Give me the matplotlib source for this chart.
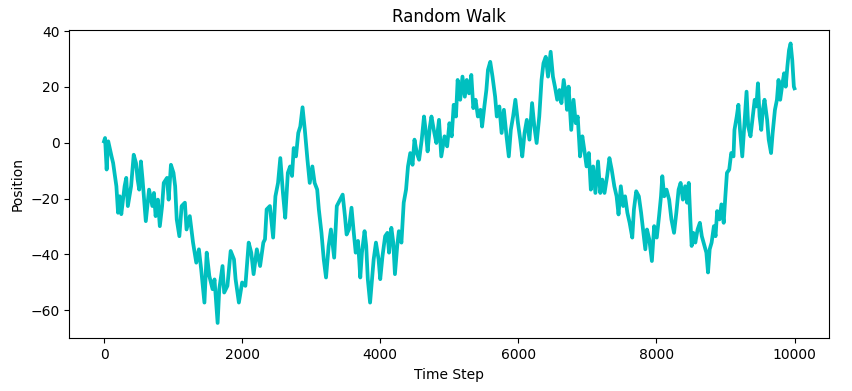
import matplotlib
matplotlib.use("Agg")
import matplotlib.pyplot as plt

steps = [0, 15, 38, 61, 109, 132, 179, 203, 227, 250, 298, 322, 345, 392, 430, 463, 487, 510, 534, 558,
         605, 652, 700, 723, 747, 780, 808, 841, 865, 912, 936, 969, 1006, 1030, 1053, 1091, 1124, 1171,
         1195, 1242, 1265, 1289, 1336, 1374, 1407, 1454, 1487, 1525, 1572, 1600, 1645, 1669, 1716, 1740,
         1787, 1834, 1882, 1905, 1953, 2000, 2047, 2095, 2132, 2166, 2213, 2260, 2307, 2331, 2355, 2402,
         2449, 2482, 2520, 2553, 2591, 2624, 2662, 2695, 2723, 2747, 2780, 2813, 2842, 2875, 2908, 2946,
         2979, 3017, 3050, 3087, 3111, 3149, 3182, 3215, 3253, 3286, 3333, 3371, 3418, 3456, 3489, 3513,
         3546, 3584, 3617, 3645, 3678, 3711, 3735, 3773, 3797, 3820, 3853, 3882, 3905, 3938, 3976, 4000,
         4033, 4071, 4104, 4128, 4161, 4189, 4213, 4246, 4270, 4307, 4326, 4340, 4374, 4402, 4435, 4468,
         4496, 4530, 4563, 4601, 4634, 4662, 4686, 4719, 4742, 4780, 4813, 4851, 4884, 4931, 4969, 5002,
         5035, 5064, 5097, 5121, 5158, 5191, 5225, 5253, 5286, 5319, 5348, 5381, 5414, 5452, 5475, 5508,
         5537, 5560, 5593, 5626, 5664, 5688, 5725, 5758, 5791, 5829, 5862, 5891, 5924, 5957, 5995, 6028,
         6057, 6090, 6123, 6161, 6199, 6232, 6265, 6303, 6336, 6364, 6397, 6430, 6468, 6501, 6530, 6563,
         6596, 6624, 6657, 6690, 6705, 6728, 6766, 6799, 6832, 6860, 6894, 6927, 6955, 6988, 7021, 7050,
         7083, 7116, 7154, 7187, 7215, 7248, 7286, 7319, 7352, 7390, 7423, 7451, 7484, 7518, 7546, 7579,
         7612, 7650, 7674, 7707, 7745, 7778, 7806, 7839, 7863, 7896, 7934, 7967, 8005, 8038, 8066, 8085,
         8113, 8146, 8184, 8217, 8255, 8288, 8321, 8350, 8383, 8416, 8444, 8468, 8490, 8510, 8534, 8563,
         8596, 8629, 8657, 8690, 8723, 8747, 8771, 8799, 8832, 8856, 8879, 8913, 8941, 8974, 8998, 9021,
         9054, 9083, 9116, 9130, 9163, 9187, 9210, 9243, 9272, 9305, 9329, 9362, 9390, 9423, 9447, 9470,
         9494, 9518, 9541, 9565, 9603, 9626, 9660, 9683, 9716, 9745, 9768, 9792, 9825, 9849, 9872, 9896,
         9920, 9943, 9967, 9990, 9999]

position = [0.5, 1.7, -9.6, 0.5, -4.9, -7.3, -15.6, -25.1, -19.2, -25.6, -15.6, -12.6, -22.7, -15.6, -4.3,
            -7.3, -13.2, -16.8, -6.7, -13.2, -28.1, -16.8, -22.7, -18.0, -26.3, -20.4, -29.9, -22.7, -14.4,
            -12.6, -20.4, -7.9, -10.8, -15.6, -27.5, -33.5, -22.7, -21.5, -31.1, -26.3, -31.1, -35.8, -43.0,
            -38.2, -45.4, -57.3, -39.4, -47.8, -52.5, -49.0, -64.6, -52.5, -44.2, -53.7, -51.3, -38.8, -41.8,
            -48.9, -57.3, -50.1, -51.3, -35.8, -39.4, -47.1, -38.2, -44.2, -35.8, -34.6, -23.9, -22.7, -34.0,
            -19.2, -14.4, -5.5, -18.0, -26.9, -10.8, -8.5, -11.9, -1.9, -4.9, 3.5, 5.8, 12.7, 4.6, -6.1,
            -14.4, -8.5, -14.4, -16.8, -23.9, -32.3, -41.8, -48.3, -37.0, -31.1, -41.2, -22.7, -20.4, -18.6,
            -26.3, -32.9, -31.1, -23.3, -32.3, -39.4, -35.2, -48.3, -39.4, -31.7, -37.0, -48.9, -57.3, -48.9,
            -41.8, -35.8, -41.8, -48.9, -40.6, -33.5, -32.3, -39.4, -30.5, -35.8, -47.1, -37.0, -31.7, -35.8,
            -27.5, -21.5, -16.8, -8.5, -3.7, -7.9, 1.1, -3.7, -6.1, 1.1, 9.4, 3.5, -3.1, 5.8, 9.4, 4.0, -0.1,
            8.2, -4.9, 2.3, -1.3, 7.0, 2.3, 13.6, 9.4, 22.5, 15.4, 23.7, 16.5, 22.5, 17.7, 24.3, 12.4, 15.4,
            9.4, 11.8, 5.8, 13.0, 18.9, 26.1, 29.0, 23.7, 16.5, 9.4, 13.0, 3.5, 11.8, 2.3, -4.9, 4.6, 9.4,
            15.4, 7.0, 1.1, -4.9, 3.5, 8.2, 1.1, 14.2, 5.8, -0.1, 9.4, 22.5, 28.5, 30.8, 23.7, 32.6, 23.7,
            20.1, 15.4, 18.9, 14.2, 22.5, 16.5, 11.8, 20.1, 4.6, 15.4, 7.0, 9.4, -4.9, 2.3, -2.5, -8.5, -3.7,
            -16.8, -8.5, -18.0, -6.7, -18.0, -13.2, -18.0, -12.0, -5.5, -9.6, -15.6, -19.2, -25.7, -15.6,
            -22.7, -19.2, -25.1, -28.7, -34.0, -23.9, -17.4, -19.2, -25.1, -31.1, -38.2, -31.1, -34.6, -42.4,
            -29.9, -34.0, -26.3, -19.2, -12.0, -19.2, -16.8, -20.4, -27.5, -32.3, -25.1, -16.8, -14.4, -20.4,
            -15.6, -21.5, -14.4, -27.0, -37.0, -32.3, -35.8, -31.1, -28.7, -33.5, -36.4, -39.4, -46.5, -38.2,
            -35.8, -29.9, -33.5, -24.5, -27.5, -22.1, -28.7, -19.2, -10.8, -9.6, -3.7, -4.9, 4.6, 9.4, 13.6,
            4.6, -4.9, 5.8, 18.3, 5.8, 2.3, 8.2, 15.4, 13.0, 21.3, 9.4, 4.6, 11.8, 15.4, 8.2, 1.1, -3.7, 3.5,
            11.8, 15.4, 22.5, 15.4, 21.3, 24.9, 20.1, 27.3, 33.2, 35.6, 29.6, 20.1, 19.5]

fig = plt.figure(figsize=(8.53, 3.91), dpi=100)
ax = fig.add_axes([69.5 / 853, 1 - 338.3 / 391, (829 - 69.5) / 853, (338.3 - 30.3) / 391])
ax.plot(steps, position, color='c', linewidth=2.7)
ax.set_xlim(-500, 10499)
ax.set_ylim(-70.1, 40.3)
ax.set_title("Random Walk")
ax.set_xlabel("Time Step")
ax.set_ylabel("Position")
fig.savefig("out.png", dpi=100)
